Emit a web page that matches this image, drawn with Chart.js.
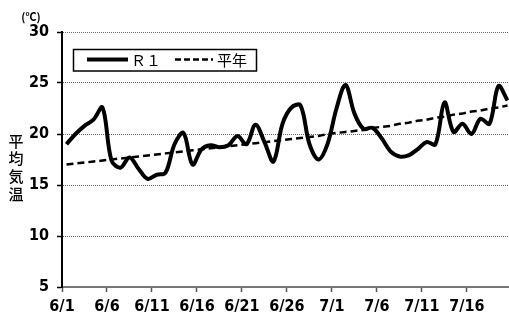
<!DOCTYPE html>
<html>
<head>
<meta charset="utf-8">
<script src="https://cdn.jsdelivr.net/npm/chart.js@4"></script>
<style>
  html, body { margin: 0; padding: 0; background: #fff; }
  #wrap { width: 509px; height: 316px; }
</style>
</head>
<body>
<div id="wrap"><canvas id="tempChart" width="509" height="316"></canvas></div>
<script>
// days 6/1 .. 7/20
const dates = [
  '6/1','6/2','6/3','6/4','6/5','6/6','6/7','6/8','6/9','6/10',
  '6/11','6/12','6/13','6/14','6/15','6/16','6/17','6/18','6/19','6/20',
  '6/21','6/22','6/23','6/24','6/25','6/26','6/27','6/28','6/29','6/30',
  '7/1','7/2','7/3','7/4','7/5','7/6','7/7','7/8','7/9','7/10',
  '7/11','7/12','7/13','7/14','7/15','7/16','7/17','7/18','7/19','7/20'
];
const r1Temp = [
  19.0, 20.0, 20.8, 21.4, 22.6, 17.4, 16.7, 17.7, 16.6, 15.6,
  16.0, 16.2, 19.0, 20.1, 17.0, 18.5, 18.9, 18.7, 18.9, 19.8,
  19.0, 20.9, 19.2, 17.3, 21.0, 22.6, 22.8, 19.0, 17.5, 19.0,
  22.5, 24.8, 22.0, 20.5, 20.6, 19.6, 18.3, 17.8, 17.9, 18.5,
  19.2, 19.0, 23.1, 20.2, 21.0, 20.0, 21.5, 21.0, 24.7, 23.3
];
const normalTemp = [
  17.0, 17.1, 17.2, 17.3, 17.4, 17.5, 17.6, 17.7, 17.8, 17.9,
  18.0, 18.1, 18.2, 18.3, 18.4, 18.5, 18.6, 18.7, 18.8, 18.9,
  19.0, 19.1, 19.2, 19.3, 19.4, 19.5, 19.6, 19.7, 19.8, 20.0,
  20.1, 20.2, 20.3, 20.4, 20.6, 20.7, 20.8, 21.0, 21.1, 21.3,
  21.4, 21.6, 21.7, 21.9, 22.0, 22.2, 22.3, 22.5, 22.6, 22.8
];
const seriesNames = ['Ｒ１', '平年'];
const yTitle = '平均気温';
const yUnit = '(℃)';
const labelEvery = 5;

const tickFont = { family: "'DejaVu Sans Condensed', 'Liberation Sans Narrow', sans-serif", weight: 'bold', size: 16 };
const jpFont = "'Noto Sans CJK JP', sans-serif";

function toPoints(arr){ return arr.map((v, i) => ({ x: i, y: v })); }

// titles + framed legend
const extras = {
  id: 'extras',
  afterDraw(chart){
    const ctx = chart.ctx;
    ctx.save();
    ctx.fillStyle = '#000';
    ctx.textAlign = 'center';
    ctx.textBaseline = 'middle';
    ctx.font = '500 15px ' + jpFont;
    Array.from(yTitle).forEach((ch, k) => ctx.fillText(ch, 16, 141 + k * 17.7));
    ctx.font = 'bold 11px ' + jpFont;
    ctx.fillText(yUnit, 31, 17);

    // legend box
    ctx.strokeStyle = '#000';
    ctx.lineWidth = 1.5;
    ctx.strokeRect(73.5, 49.5, 183, 21.5);
    const ly = 59.5;
    ctx.lineWidth = 4;
    ctx.beginPath(); ctx.moveTo(87, ly); ctx.lineTo(128, ly); ctx.stroke();
    ctx.lineWidth = 2.5;
    ctx.setLineDash([6, 3]);
    ctx.beginPath(); ctx.moveTo(175, ly); ctx.lineTo(213, ly); ctx.stroke();
    ctx.setLineDash([]);
    ctx.textAlign = 'left';
    ctx.font = '15px ' + jpFont;
    ctx.fillText(seriesNames[0], 131, ly + 1);
    ctx.fillText(seriesNames[1], 217, ly + 1);
    ctx.restore();
  }
};

const ctx = document.getElementById('tempChart').getContext('2d');
new Chart(ctx, {
  type: 'line',
  data: {
    datasets: [
      {
        label: seriesNames[1],
        data: toPoints(normalTemp),
        borderColor: '#000',
        borderWidth: 2.5,
        borderDash: [7, 4],
        pointRadius: 0,
        tension: 0,
        fill: false
      },
      {
        label: seriesNames[0],
        data: toPoints(r1Temp),
        borderColor: '#000',
        borderWidth: 4,
        pointRadius: 0,
        tension: 0.35,
        fill: false
      }
    ]
  },
  options: {
    responsive: false,
    animation: false,
    devicePixelRatio: 1,
    layout: { padding: { top: 32, right: 0, left: 0, bottom: 0 } },
    plugins: { legend: { display: false }, tooltip: { enabled: false } },
    scales: {
      x: {
        type: 'linear',
        min: -0.5,
        max: 49.17,
        afterBuildTicks(scale){
          const t = [];
          for(let i = 0; i < dates.length; i += labelEvery) t.push({ value: i - 0.5 });
          scale.ticks = t;
        },
        afterFit(scale){ scale.height = 29; },
        ticks: {
          autoSkip: false,
          maxRotation: 0,
          padding: 5,
          color: '#000',
          font: tickFont,
          callback: (v) => dates[Math.round(v + 0.5)] || ''
        },
        grid: { drawOnChartArea: false, drawTicks: true, tickLength: 5, tickColor: '#555', tickWidth: 1.5 },
        border: { display: true, color: '#777', width: 2 }
      },
      y: {
        min: 5,
        max: 30,
        afterFit(scale){ scale.width = 62; },
        ticks: { stepSize: 5, padding: 8, color: '#000', font: tickFont },
        grid: { color: '#666', lineWidth: 1, tickLength: 5, tickColor: '#000', tickWidth: 1.5 },
        border: { display: true, color: '#000', width: 2, dash: [1, 1] }
      }
    }
  },
  plugins: [extras]
});
</script>
</body>
</html>
